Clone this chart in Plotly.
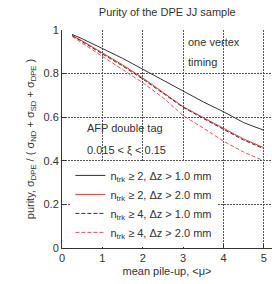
import plotly.graph_objects as go

x_vals = [0.25, 0.5, 1.0, 1.5, 2.0, 2.5, 3.0, 3.5, 4.0, 4.5, 5.0]
y_n2_dz1 = [0.98, 0.96, 0.915, 0.87, 0.82, 0.77, 0.72, 0.67, 0.625, 0.575, 0.54]
y_n2_dz2 = [0.975, 0.95, 0.895, 0.84, 0.78, 0.715, 0.648, 0.598, 0.55, 0.50, 0.46]
y_n4_dz1 = [0.975, 0.948, 0.89, 0.835, 0.775, 0.71, 0.645, 0.594, 0.545, 0.495, 0.455]
y_n4_dz2 = [0.97, 0.94, 0.878, 0.818, 0.758, 0.69, 0.607, 0.55, 0.49, 0.44, 0.40]

series_names = [
    "n<sub>trk</sub> ≥ 2, Δz > 1.0 mm",
    "n<sub>trk</sub> ≥ 2, Δz > 2.0 mm",
    "n<sub>trk</sub> ≥ 4, Δz > 1.0 mm",
    "n<sub>trk</sub> ≥ 4, Δz > 2.0 mm",
]
series_vals = [y_n2_dz1, y_n2_dz2, y_n4_dz1, y_n4_dz2]
colors = ["#333333", "#e23a3a", "#333333", "#e85555"]
dashes = ["solid", "solid", "4px,2px", "4px,2px"]

x_ticks = [0, 1, 2, 3, 4, 5]
y_ticks = [0, 0.2, 0.4, 0.6, 0.8, 1]
y_ticktext = ["0", "0.2", "0.4", "0.6", "0.8", "1"]

FONT = "Liberation Sans, Arial, sans-serif"
TXT = "#333333"
GRID = "#555555"

fig = go.Figure()
for name, vals, c, d in zip(series_names, series_vals, colors, dashes):
    fig.add_trace(go.Scatter(x=x_vals, y=vals, mode="lines", name=name,
                             line=dict(color=c, width=1, dash=d)))

fig.update_layout(
    width=272, height=284,
    margin=dict(l=62, r=0, t=30, b=36),
    paper_bgcolor="white", plot_bgcolor="white",
    font=dict(family=FONT, size=11, color=TXT),
    title=dict(text="Purity of the DPE JJ sample", x=0.615, xanchor="center",
               y=0.958, yanchor="middle", font=dict(size=11, color=TXT)),
    showlegend=True,
    legend=dict(x=0.04, y=0.005, xanchor="left", yanchor="bottom",
                bgcolor="white", borderwidth=0, font=dict(size=11, color=TXT),
                itemwidth=30, tracegroupgap=0),
)
fig.update_xaxes(range=[0, 5.2], tickvals=x_ticks, ticks="inside", ticklen=4,
                 tickcolor="#333", showline=True, linecolor="#333", linewidth=1,
                 showgrid=True, gridcolor=GRID, griddash="2px,1px", gridwidth=1,
                 zeroline=False, title=dict(text="mean pile-up, <μ>", standoff=4,
                 font=dict(size=11)), tickfont=dict(size=11))
fig.update_yaxes(range=[0, 1], tickvals=y_ticks, ticktext=y_ticktext, ticks="inside",
                 ticklen=4, tickcolor="#333", showline=True, linecolor="#333",
                 linewidth=1, mirror=True, showgrid=True, gridcolor=GRID,
                 griddash="2px,1px", gridwidth=1, zeroline=False,
                 title=dict(text="purity, σ<sub>DPE</sub> / ( σ<sub>ND</sub> + σ<sub>SD</sub> + σ<sub>DPE</sub> )",
                            standoff=6, font=dict(size=11)),
                 tickfont=dict(size=11))

notes = [("one vertex", 3.08, 0.945), ("timing", 3.08, 0.855),
         ("AFP double tag", 0.57, 0.55), ("0.015 < ξ < 0.15", 0.57, 0.45)]
for t, ax, ay in notes:
    fig.add_annotation(x=ax, y=ay, text=t, showarrow=False, xanchor="left",
                       yanchor="middle", font=dict(size=11, color=TXT))

fig.write_html("out.html", config={"displayModeBar": False},
               post_script="document.body.style.margin='0';document.body.style.overflow='hidden';")
